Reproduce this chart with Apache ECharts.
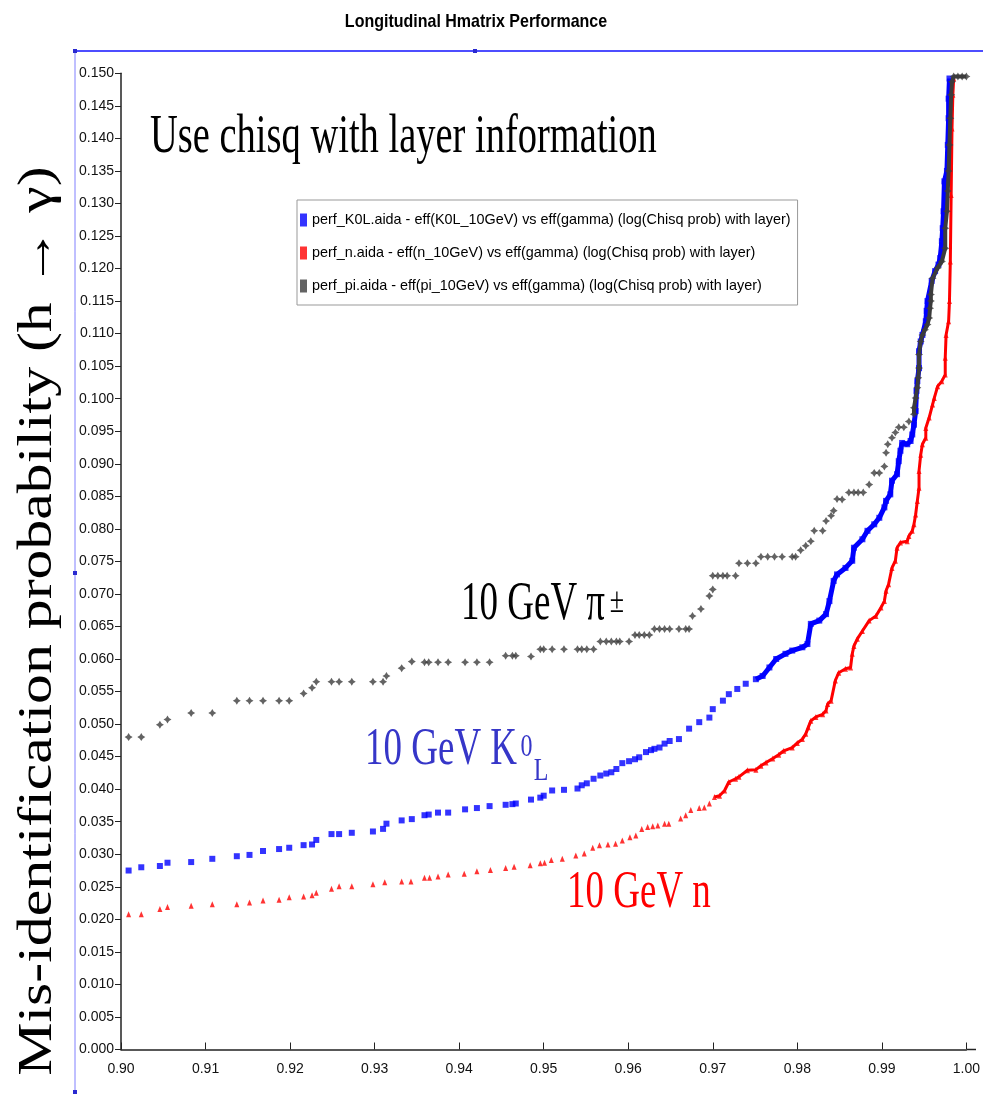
<!DOCTYPE html>
<html><head><meta charset="utf-8">
<script src="https://cdn.jsdelivr.net/npm/echarts@6/dist/echarts.min.js"></script>
<style>html,body{margin:0;padding:0;background:#fff}#c{width:983px;height:1094px}</style>
</head><body><div id="c"></div>
<script>
// ---- data ----
const k0lName = 'perf_K0L.aida - eff(K0L_10GeV) vs eff(gamma) (log(Chisq prob) with layer)';
const nName = 'perf_n.aida - eff(n_10GeV) vs eff(gamma) (log(Chisq prob) with layer)';
const piName = 'perf_pi.aida - eff(pi_10GeV) vs eff(gamma) (log(Chisq prob) with layer)';

const k0lEff = [
0.9009,0.9024,0.9046,0.9055,0.9083,0.9108,0.9137,0.9152,0.9168,0.9187,0.9199,0.9216,0.9226,0.9231,0.9249,0.9258,0.9273,0.9298,
0.9310,0.9314,0.9332,0.9344,0.9359,0.9364,0.9375,0.9387,0.9407,0.9421,0.9436,0.9455,0.9463,0.9467,0.9485,0.9496,0.9500,0.9510,0.9524,0.9540,0.9545,0.9551,0.9559,0.9567,0.9574,0.9580,0.9586,0.9593,0.9601,0.9608,0.9613,0.9621,0.9627,0.9631,0.9637,0.9643,0.9649,0.9660,
0.9672,0.9684,0.9696,0.9700,0.9712,0.9719,0.9729,0.9739,0.9751,0.9759,0.9767,0.9775,0.9786,0.9794,0.9806,0.9812,0.9816,0.9826,0.9834,0.9838,0.9843,0.9847,
0.9857,0.9865,0.9867,0.9877,0.9883,0.9891,0.9897,0.9903,0.9905,0.9910,0.9912,0.9918,0.9920,0.9922,0.9924,0.9930,0.9934,0.9936,0.9938,0.9940,0.9941,0.9942,0.9944,0.9944,0.9946,0.9948,0.9952,0.9953,0.9954,
0.9959,0.9963,0.9967,0.9969,0.9971,0.9972,0.9973,0.9974,0.9977,0.9978,0.9979,0.9979,0.9980];
const k0lMisid = [
0.0275,0.0280,0.0282,0.0287,0.0288,0.0293,0.0297,0.0299,0.0305,0.0308,0.0310,0.0314,0.0315,0.0322,0.0331,0.0331,0.0333,0.0335,
0.0339,0.0347,0.0352,0.0354,0.0360,0.0361,0.0364,0.0364,0.0369,0.0371,0.0374,0.0376,0.0377,0.0378,0.0384,0.0387,0.0390,0.0398,0.0399,0.0401,0.0406,0.0409,0.0416,0.0421,0.0424,0.0426,0.0431,0.0440,0.0443,0.0446,0.0449,0.0457,0.0460,0.0462,0.0464,0.0470,0.0474,0.0477,
0.0493,0.0503,0.0510,0.0523,0.0536,0.0546,0.0554,0.0562,0.0569,0.0574,0.0587,0.0600,0.0608,0.0613,0.0618,0.0623,0.0654,0.0659,0.0669,0.0689,0.0720,0.0730,
0.0740,0.0751,0.0771,0.0784,0.0797,0.0807,0.0817,0.0833,0.0843,0.0853,0.0874,0.0884,0.0904,0.0920,0.0932,0.0930,0.0935,0.0945,0.0960,0.0981,0.1012,0.1027,0.1047,0.1073,0.1088,0.1098,0.1119,0.1135,0.1150,
0.1181,0.1196,0.1206,0.1216,0.1242,0.1262,0.1288,0.1334,0.1350,0.1390,0.1431,0.1461,0.1492];

const nEff = [
0.9009,0.9024,0.9046,0.9055,0.9083,0.9108,0.9137,0.9152,0.9168,0.9187,0.9199,0.9216,0.9226,0.9231,0.9249,0.9258,0.9273,0.9298,
0.9312,0.9332,0.9343,0.9359,0.9365,0.9375,0.9387,0.9406,0.9421,0.9437,0.9455,0.9465,0.9484,0.9496,0.9501,0.9509,0.9522,0.9538,0.9548,0.9558,0.9566,0.9576,0.9585,0.9593,0.9602,0.9609,0.9616,0.9623,0.9629,0.9635,0.9643,
0.9648,0.9662,0.9668,0.9674,0.9684,0.9690,0.9696,0.9702,0.9708,0.9714,0.9719,0.9727,0.9731,0.9741,0.9751,0.9757,0.9763,0.9771,0.9778,0.9784,0.9794,0.9800,0.9806,0.9810,0.9813,0.9816,0.9822,0.9830,0.9834,0.9836,0.9840,
0.9845,0.9849,0.9857,0.9863,0.9865,0.9867,0.9871,0.9877,0.9885,0.9893,0.9899,0.9903,0.9905,0.9908,0.9912,0.9916,0.9918,0.9922,0.9930,0.9932,0.9936,0.9938,0.9940,0.9942,0.9944,0.9944,0.9946,0.9948,0.9952,0.9952,0.9956,0.9960,0.9962,0.9966,0.9971,0.9975,0.9975,0.9976,0.9979,0.9980,0.9981,0.9982,0.9983,0.9984,0.9985];
const nMisid = [
0.0208,0.0208,0.0216,0.0219,0.0221,0.0223,0.0223,0.0226,0.0229,0.0230,0.0234,0.0235,0.0237,0.0241,0.0247,0.0251,0.0251,0.0254,
0.0257,0.0258,0.0258,0.0264,0.0264,0.0266,0.0269,0.0270,0.0274,0.0276,0.0279,0.0281,0.0283,0.0286,0.0287,0.0291,0.0293,0.0298,0.0301,0.0310,0.0314,0.0315,0.0316,0.0321,0.0326,0.0329,0.0339,0.0342,0.0343,0.0344,0.0347,
0.0347,0.0355,0.0360,0.0368,0.0371,0.0372,0.0378,0.0388,0.0390,0.0398,0.0411,0.0416,0.0419,0.0429,0.0430,0.0436,0.0441,0.0447,0.0453,0.0459,0.0464,0.0471,0.0477,0.0485,0.0495,0.0505,0.0511,0.0515,0.0521,0.0531,0.0536,
0.0567,0.0579,0.0585,0.0587,0.0608,0.0620,0.0631,0.0643,0.0659,0.0666,0.0679,0.0689,0.0705,0.0715,0.0740,0.0751,0.0771,0.0779,0.0781,0.0789,0.0797,0.0807,0.0822,0.0843,0.0863,0.0889,0.0914,0.0930,0.0940,0.0955,0.0971,0.0991,0.1001,0.1019,0.1027,0.1037,0.1063,0.1098,0.1119,0.1150,0.1211,0.1313,0.1415,0.1467,0.1492];

const piEff = [
0.9009,0.9024,0.9046,0.9055,0.9083,0.9108,0.9137,0.9152,0.9168,0.9187,0.9199,0.9216,0.9226,0.9231,0.9249,0.9258,0.9273,0.9298,
0.9310,0.9314,0.9332,0.9344,0.9359,0.9364,0.9375,0.9387,0.9407,0.9421,0.9436,0.9455,0.9463,0.9467,0.9485,0.9496,0.9500,0.9510,0.9524,0.9540,0.9545,0.9551,0.9559,0.9567,0.9574,0.9580,0.9586,0.9590,0.9601,0.9608,0.9613,0.9619,0.9625,0.9631,0.9637,0.9643,0.9649,0.9660,
0.9668,0.9672,0.9676,0.9686,0.9696,0.9700,0.9700,0.9706,0.9712,0.9717,0.9727,0.9731,0.9741,0.9751,0.9757,0.9765,0.9773,0.9782,0.9794,0.9798,0.9804,0.9810,0.9816,0.9820,0.9830,0.9834,0.9840,0.9843,0.9847,
0.9853,0.9861,0.9867,0.9872,0.9878,0.9885,0.9891,0.9897,0.9903,0.9905,0.9907,0.9912,0.9916,0.9920,0.9926,0.9932,0.9938,0.9938,0.9940,0.9942,0.9943,0.9944,0.9944,0.9946,0.9948,0.9951,0.9954,0.9956,0.9957,0.9958,
0.9958,0.9960,0.9966,0.9971,0.9975,0.9975,0.9977,0.9978,0.9979,0.9980,0.9981,0.9982,0.9983,0.9985,0.9990,0.9995,1.0000];
const piMisid = [
0.0480,0.0480,0.0499,0.0507,0.0517,0.0517,0.0536,0.0536,0.0536,0.0536,0.0536,0.0547,0.0556,0.0565,0.0565,0.0565,0.0565,0.0565,
0.0565,0.0574,0.0586,0.0596,0.0595,0.0595,0.0595,0.0595,0.0595,0.0595,0.0595,0.0605,0.0605,0.0605,0.0604,0.0615,0.0615,0.0615,0.0615,0.0615,0.0615,0.0615,0.0615,0.0627,0.0627,0.0627,0.0627,0.0627,0.0627,0.0637,0.0637,0.0637,0.0637,0.0646,0.0646,0.0646,0.0646,0.0646,
0.0646,0.0646,0.0666,0.0677,0.0697,0.0707,0.0728,0.0728,0.0728,0.0728,0.0728,0.0747,0.0747,0.0747,0.0757,0.0757,0.0757,0.0757,0.0757,0.0757,0.0767,0.0774,0.0781,0.0797,0.0797,0.0812,0.0820,0.0828,0.0846,
0.0845,0.0856,0.0856,0.0856,0.0856,0.0868,0.0886,0.0886,0.0896,0.0917,0.0930,0.0940,0.0948,0.0956,0.0956,0.0965,0.0976,0.0986,0.1001,0.1017,0.1032,0.1047,0.1068,0.1088,0.1098,0.1106,0.1114,0.1124,0.1139,0.1150,
0.1160,0.1185,0.1201,0.1211,0.1231,0.1262,0.1288,0.1319,0.1350,0.1390,0.1431,0.1467,0.1487,0.1495,0.1495,0.1495,0.1495];

// ---- chart ----
const SANS = "'Liberation Sans', Arial, sans-serif";
const SERIF = "'Liberation Serif', 'Times New Roman', serif";
function pairs(xs, ys) { return xs.map((x, i) => [x, ys[i]]); }
function dense(xs, ys, from) { return pairs(xs, ys).filter(p => p[0] >= from); }
const starPath = 'path://M5,0L6.9,3.1L10,5L6.9,6.9L5,10L3.1,6.9L0,5L3.1,3.1Z';
const BLUE = '#0000ff', RED = '#ff0000', GREY = '#3c3c3c';

const chart = echarts.init(document.getElementById('c'));
chart.setOption({
  animation: false,
  backgroundColor: '#fff',
  grid: { left: 121, right: 15.5, top: 73.3, bottom: 44.5, containLabel: false },
  legend: {
    data: [k0lName, nName, piName],
    orient: 'vertical', left: 297, top: 200,
    icon: 'rect', itemWidth: 7, itemHeight: 13, itemGap: 17,
    padding: [12, 7, 11, 3],
    borderColor: '#999', borderWidth: 1, backgroundColor: '#fff',
    textStyle: { fontFamily: SANS, fontSize: 14.4, lineHeight: 16, color: '#000' },
    selectedMode: false
  },
  xAxis: {
    type: 'value', min: 0.90, max: 1.00, interval: 0.01,
    axisLine: { lineStyle: { color: '#222', width: 1.5 } },
    axisTick: { inside: true, length: 7, lineStyle: { color: '#222' } },
    splitLine: { show: false },
    axisLabel: { margin: 13, fontFamily: SANS, fontSize: 14, color: '#111', formatter: v => v.toFixed(2) }
  },
  yAxis: {
    type: 'value', min: 0, max: 0.150, interval: 0.005,
    axisLine: { show: true, lineStyle: { color: '#222', width: 1.5 } },
    axisTick: { show: true, length: 6, lineStyle: { color: '#222' } },
    splitLine: { show: false },
    axisLabel: { margin: 7, fontFamily: SANS, fontSize: 14, color: '#111', formatter: v => v.toFixed(3), showMaxLabel: true, showMinLabel: true }
  },
  series: [
    { name: 'k0lDense', type: 'line', data: dense(k0lEff, k0lMisid, 0.9750), showSymbol: false, symbol: 'none',
      lineStyle: { color: BLUE, width: 5 }, silent: true, z: 2 },
    { name: 'nDense', type: 'line', data: dense(nEff, nMisid, 0.9700), showSymbol: false, symbol: 'none',
      lineStyle: { color: RED, width: 3 }, silent: true, z: 2 },
    { name: 'piDense', type: 'line', data: dense(piEff, piMisid, 0.9935), showSymbol: false, symbol: 'none',
      lineStyle: { color: GREY, width: 4 }, silent: true, z: 3 },
    { name: k0lName, type: 'scatter', data: pairs(k0lEff, k0lMisid), symbol: 'rect', symbolSize: [6, 6],
      itemStyle: { color: BLUE }, z: 2 },
    { name: nName, type: 'scatter', data: pairs(nEff, nMisid), symbol: 'triangle', symbolSize: [5, 6],
      itemStyle: { color: RED }, z: 2 },
    { name: piName, type: 'scatter', data: pairs(piEff, piMisid), symbol: starPath, symbolSize: [8, 8],
      itemStyle: { color: GREY }, z: 3 }
  ],
  graphic: [
    { type: 'line', shape: { x1: 75, y1: 51, x2: 983, y2: 51 }, style: { stroke: '#4d4dff', lineWidth: 2 }, silent: true },
    { type: 'line', shape: { x1: 75, y1: 51, x2: 75, y2: 1094 }, style: { stroke: '#8080ff', lineWidth: 1 }, silent: true },
    { type: 'line', shape: { x1: 967, y1: 1049.5, x2: 976, y2: 1049.5 }, style: { stroke: '#222', lineWidth: 1.5 }, silent: true },
    { type: 'rect', shape: { x: 73, y: 49, width: 4, height: 4 }, style: { fill: '#2a2ad0' }, silent: true },
    { type: 'rect', shape: { x: 473, y: 49, width: 4, height: 4 }, style: { fill: '#2a2ad0' }, silent: true },
    { type: 'rect', shape: { x: 73, y: 571, width: 4, height: 4 }, style: { fill: '#2a2ad0' }, silent: true },
    { type: 'rect', shape: { x: 73, y: 1090, width: 4, height: 4 }, style: { fill: '#2a2ad0' }, silent: true },
    { type: 'text', x: 476, y: 22, scaleY: 1.2,
      style: { text: 'Longitudinal Hmatrix Performance', fontFamily: SANS, fontWeight: 'bold', fontSize: 16,
        fill: '#000', textAlign: 'center', textVerticalAlign: 'middle', align: 'center', verticalAlign: 'middle' } },
    { type: 'text', x: 38, y: 621, rotation: Math.PI / 2, scaleX: 1.245,
      style: { text: 'Mis-identification probability (h \u2192 \u03b3)', fontFamily: SERIF, fontSize: 48, fill: '#000',
        textAlign: 'center', textVerticalAlign: 'middle', align: 'center', verticalAlign: 'middle' } },
    { type: 'text', x: 150, y: 137, scaleY: 1.45,
      style: { text: 'Use chisq with layer information', fontFamily: SERIF, fontSize: 38.5, fill: '#000',
        textAlign: 'left', textVerticalAlign: 'middle', align: 'left', verticalAlign: 'middle' } },
    { type: 'text', x: 461, y: 604, scaleY: 1.5,
      style: { text: '10 GeV \u03c0', fontFamily: SERIF, fontSize: 37, fill: '#000',
        textAlign: 'left', textVerticalAlign: 'middle', align: 'left', verticalAlign: 'middle' } },
    { type: 'text', x: 617, y: 603, scaleY: 1.35,
      style: { text: '\u00b1', fontFamily: SERIF, fontSize: 26, fill: '#000',
        textAlign: 'center', textVerticalAlign: 'middle', align: 'center', verticalAlign: 'middle' } },
    { type: 'text', x: 365, y: 750.5, scaleY: 1.4,
      style: { text: '10 GeV K', fontFamily: SERIF, fontSize: 37, fill: '#3636c8',
        textAlign: 'left', textVerticalAlign: 'middle', align: 'left', verticalAlign: 'middle' } },
    { type: 'text', x: 526.5, y: 748, scaleY: 1.3,
      style: { text: '0', fontFamily: SERIF, fontSize: 24, fill: '#3636c8',
        textAlign: 'center', textVerticalAlign: 'middle', align: 'center', verticalAlign: 'middle' } },
    { type: 'text', x: 541, y: 771, scaleY: 1.35,
      style: { text: 'L', fontFamily: SERIF, fontSize: 24, fill: '#3636c8',
        textAlign: 'center', textVerticalAlign: 'middle', align: 'center', verticalAlign: 'middle' } },
    { type: 'text', x: 567, y: 893, scaleY: 1.45,
      style: { text: '10 GeV n', fontFamily: SERIF, fontSize: 37, fill: '#ff0000',
        textAlign: 'left', textVerticalAlign: 'middle', align: 'left', verticalAlign: 'middle' } }
  ]
});
</script></body></html>
